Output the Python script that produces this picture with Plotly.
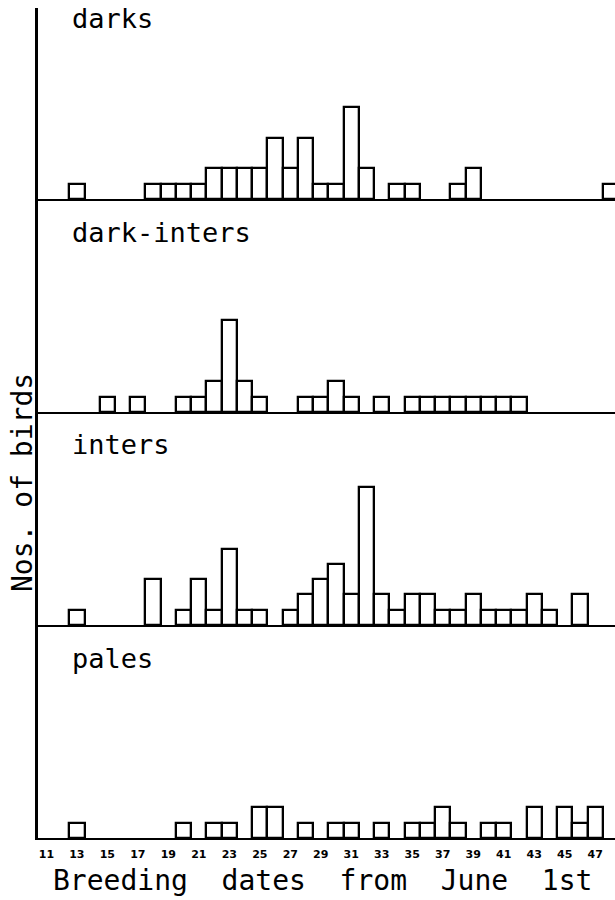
import plotly.graph_objects as go
from plotly.subplots import make_subplots

# ---- data ----
groups = ["darks", "dark-inters", "inters", "pales"]

darks_days = [13, 18, 19, 20, 21, 22, 23, 24, 25, 26, 27, 28, 29, 30, 31, 32, 34, 35, 38, 39, 48]
darks_n    = [1, 1, 1, 1, 1, 2, 2, 2, 2, 4, 2, 4, 1, 1, 6, 2, 1, 1, 1, 2, 1]

dark_inters_days = [15, 17, 20, 21, 22, 23, 24, 25, 28, 29, 30, 31, 33, 35, 36, 37, 38, 39, 40, 41, 42]
dark_inters_n    = [1, 1, 1, 1, 2, 6, 2, 1, 1, 1, 2, 1, 1, 1, 1, 1, 1, 1, 1, 1, 1]

inters_days = [13, 18, 20, 21, 22, 23, 24, 25, 27, 28, 29, 30, 31, 32, 33, 34, 35, 36, 37, 38, 39, 40, 41, 42, 43, 44, 46]
inters_n    = [1, 3, 1, 3, 1, 5, 1, 1, 1, 2, 3, 4, 2, 9, 2, 1, 2, 2, 1, 1, 2, 1, 1, 1, 2, 1, 2]

pales_days = [13, 20, 22, 23, 25, 26, 28, 30, 31, 33, 35, 36, 37, 38, 40, 41, 43, 45, 46, 47]
pales_n    = [1, 1, 1, 1, 2, 2, 1, 1, 1, 1, 1, 1, 2, 1, 1, 1, 2, 2, 1, 2]

tick_days = [11, 13, 15, 17, 19, 21, 23, 25, 27, 29, 31, 33, 35, 37, 39, 41, 43, 45, 47]
x_title = "Breeding\u00a0\u00a0dates\u00a0\u00a0from\u00a0\u00a0June\u00a0\u00a01st"
y_title = "Nos.\u00a0of\u00a0birds"

series = [(darks_days, darks_n), (dark_inters_days, dark_inters_n),
          (inters_days, inters_n), (pales_days, pales_n)]

# ---- geometry (pixels) ----
W, H = 615, 900
ML, MR, MT, MB = 38, 0, 8, 62
PW, PH = W - ML - MR, H - MT - MB
panel_px = [191, 213, 213, 213]          # heights from top to bottom
unit_px = 15.3                          # pixels per bird
x_range = [10.45, 48.3]

MONO = "DejaVu Sans Mono"

fig = make_subplots(rows=4, cols=1, shared_xaxes=True, vertical_spacing=0)

for i, (d, n) in enumerate(series):
    fig.add_trace(go.Bar(x=d, y=n, width=1,
                         marker=dict(color="white", line=dict(color="black", width=2.3)),
                         showlegend=False, hoverinfo="x+y"),
                  row=i + 1, col=1)

# domains
top = PH
for i, hpx in enumerate(panel_px):
    bottom = top - hpx
    ax = "yaxis" if i == 0 else f"yaxis{i + 1}"
    xa = "xaxis" if i == 0 else f"xaxis{i + 1}"
    fig.layout[ax].update(domain=[bottom / PH, top / PH], range=[0, hpx / unit_px],
                          showline=True, linecolor="black", linewidth=2.6,
                          showgrid=False, zeroline=False, showticklabels=False, ticks="")
    fig.layout[xa].update(range=x_range, showline=True, linecolor="black", linewidth=2.2,
                          showgrid=False, zeroline=False, ticks="",
                          showticklabels=(i == 3), tickmode="array", tickvals=tick_days,
                          ticktext=[str(t) for t in tick_days])
    # panel label
    base_px = MT + (PH - bottom)          # baseline pixel y
    lab_y = base_px - 180
    fig.add_annotation(text=groups[i], xref="paper", yref="paper",
                       x=(70 - ML) / PW, y=(MT + PH - lab_y) / PH,
                       xanchor="left", yanchor="middle", showarrow=False,
                       font=dict(family=MONO, size=27, color="black"))
    top = bottom

fig.layout.xaxis4.update(tickfont=dict(family="DejaVu Sans", size=11, color="black", weight="bold"),
                         ticklabelstandoff=5)

# axis titles
fig.add_annotation(text=x_title, xref="paper", yref="paper",
                   x=(322 - ML) / PW, y=(MT + PH - 880) / PH,
                   xanchor="center", yanchor="middle", showarrow=False,
                   font=dict(family=MONO, size=28, color="black"))
fig.add_annotation(text=y_title, xref="paper", yref="paper",
                   x=(22 - ML) / PW, y=(MT + PH - 483) / PH, textangle=-90,
                   xanchor="center", yanchor="middle", showarrow=False,
                   font=dict(family=MONO, size=28, color="black"))

fig.update_layout(width=W, height=H, margin=dict(l=ML, r=MR, t=MT, b=MB),
                  paper_bgcolor="white", plot_bgcolor="white", bargap=0,
                  font=dict(family=MONO, color="black"))

fig.write_html("out.html", config={"displayModeBar": False},
               post_script="document.body.style.margin='0';document.body.style.overflow='hidden';")
